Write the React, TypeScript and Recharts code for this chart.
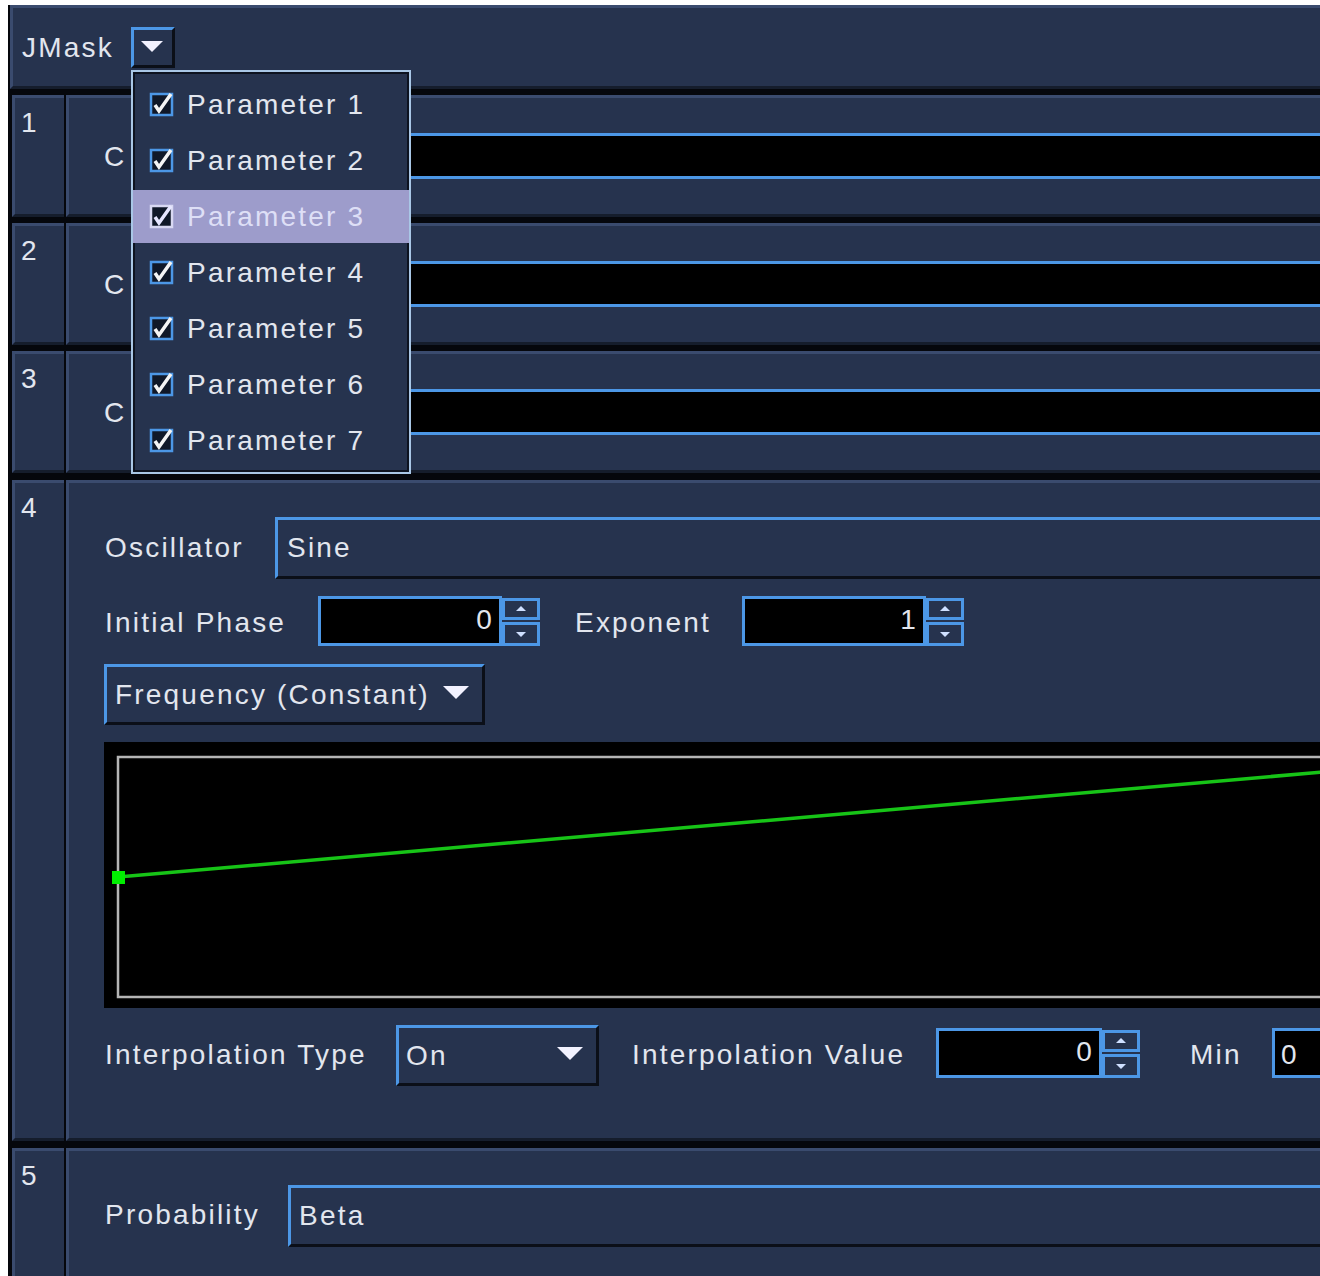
import React from "react";
import { LineChart, Line, XAxis, YAxis, ReferenceArea } from "recharts";

// frequency envelope: normalised time -> value
const envTime = [0, 1];
const envValue = [0.5, 0.94];

const menuItems = [
  "Parameter 1",
  "Parameter 2",
  "Parameter 3",
  "Parameter 4",
  "Parameter 5",
  "Parameter 6",
  "Parameter 7",
];
const highlighted = 2;

const rowNumbers = ["1", "2", "3", "4", "5"];

const NAVY = "#26334e";
const BLUE = "#4c97e6";
const TXT = "#e2e6ee";
const FONT = '"Liberation Sans", Arial, sans-serif';

const envData = envTime.map((t, i) => ({ t, v: envValue[i] }));

const text = (x: number, y: number, s: string, extra: React.CSSProperties = {}) => (
  <div
    style={{
      position: "absolute",
      left: x,
      top: y,
      fontSize: 28,
      letterSpacing: 2.2,
      color: TXT,
      lineHeight: "32px",
      whiteSpace: "nowrap",
      ...extra,
    }}
  >
    {s}
  </div>
);

const Panel = ({ x, y, w, h }: { x: number; y: number; w: number; h: number }) => (
  <div
    style={{
      position: "absolute",
      left: x,
      top: y,
      width: w,
      height: h,
      background: NAVY,
      boxSizing: "border-box",
      borderTop: "3px solid #3a4b6e",
      borderLeft: "3px solid #3a4b6e",
      borderBottom: "3px solid #151d2c",
    }}
  />
);

const Field = ({ x, y, w, h, black }: { x: number; y: number; w: number; h: number; black?: boolean }) => (
  <div
    style={{
      position: "absolute",
      left: x,
      top: y,
      width: w,
      height: h,
      boxSizing: "border-box",
      background: black ? "#000" : NAVY,
      borderTop: `3px solid ${BLUE}`,
      borderLeft: `3px solid ${BLUE}`,
      borderRight: black ? `3px solid ${BLUE}` : "3px solid #0b0f18",
      borderBottom: black ? `3px solid ${BLUE}` : "3px solid #0b0f18",
    }}
  />
);

const Arrow = ({ x, y, w = 26 }: { x: number; y: number; w?: number }) => (
  <svg style={{ position: "absolute", left: x, top: y }} width={w} height={w / 2 + 2}>
    <polygon points={`0,0 ${w},0 ${w / 2},${w / 2}`} fill="#f2f2ff" />
  </svg>
);

const Spin = ({ x, y, w, value }: { x: number; y: number; w: number; value: string }) => (
  <>
    <Field x={x} y={y} w={w - 38} h={50} black />
    {text(x, y + 8, value, { width: w - 46, textAlign: "right" })}
    <div style={{ position: "absolute", left: x + w - 38, top: y + 2, width: 38, height: 22, boxSizing: "border-box", border: `3px solid ${BLUE}`, background: NAVY }} />
    <div style={{ position: "absolute", left: x + w - 38, top: y + 26, width: 38, height: 24, boxSizing: "border-box", border: `3px solid ${BLUE}`, background: NAVY }} />
    <svg style={{ position: "absolute", left: x + w - 24, top: y + 10 }} width={10} height={6}>
      <polygon points="0,5 10,5 5,0" fill="#cfe0ff" />
    </svg>
    <svg style={{ position: "absolute", left: x + w - 24, top: y + 36 }} width={10} height={6}>
      <polygon points="0,0 10,0 5,5" fill="#cfe0ff" />
    </svg>
  </>
);

const Check = ({ x, y, light }: { x: number; y: number; light?: boolean }) => (
  <svg style={{ position: "absolute", left: x, top: y }} width={26} height={26}>
    <rect x={2} y={3} width={21} height={21} fill="#101828" stroke={light ? "#d8d8f2" : BLUE} strokeWidth={2.5} />
    <path d="M6 14 L10 20 L22 3" fill="none" stroke={light ? "#e6e6ff" : "#f4f4f4"} strokeWidth={3.5} />
  </svg>
);

export default function App() {
  const rows = [
    { y: 95, h: 122 },
    { y: 223, h: 122 },
    { y: 351, h: 122 },
    { y: 480, h: 661 },
    { y: 1148, h: 140 },
  ];
  const rowFields = [133, 261, 389];
  return (
    <div style={{ position: "relative", width: 1320, height: 1276, overflow: "hidden", background: "#fff", fontFamily: FONT }}>
      <style>{`body{margin:0}`}</style>
      <div style={{ position: "absolute", left: 8, top: 5, width: 1320, height: 1290, background: "#05070c" }} />
      <Panel x={10} y={5} w={1320} h={84} />
      {text(22, 32, "JMask")}
      <div style={{ position: "absolute", left: 131, top: 27, width: 44, height: 41, boxSizing: "border-box", borderTop: `3px solid ${BLUE}`, borderLeft: `3px solid ${BLUE}`, borderRight: "3px solid #0b0f18", borderBottom: "3px solid #0b0f18", background: NAVY }} />
      <Arrow x={141} y={41} w={22} />

      {rows.map((r, i) => (
        <React.Fragment key={i}>
          <Panel x={12} y={r.y} w={52} h={r.h} />
          <Panel x={66} y={r.y} w={1300} h={r.h} />
          {text(21, r.y + 12, rowNumbers[i])}
        </React.Fragment>
      ))}

      {rowFields.map((fy, i) => (
        <React.Fragment key={i}>
          {text(104, fy + 8, "C")}
          <div style={{ position: "absolute", left: 300, top: fy, width: 1100, height: 46, boxSizing: "border-box", background: "#000", borderTop: `3px solid ${BLUE}`, borderBottom: `3px solid ${BLUE}` }} />
        </React.Fragment>
      ))}

      {/* row 4 */}
      {text(105, 532, "Oscillator")}
      <Field x={275} y={517} w={1100} h={62} />
      {text(287, 532, "Sine")}
      {text(105, 607, "Initial Phase")}
      <Spin x={318} y={596} w={222} value="0" />
      {text(575, 607, "Exponent")}
      <Spin x={742} y={596} w={222} value="1" />
      <Field x={104} y={664} w={381} h={61} />
      {text(115, 679, "Frequency (Constant)")}
      <Arrow x={443} y={686} />

      <div style={{ position: "absolute", left: 104, top: 742, width: 1240, height: 266, background: "#000" }}>
        <LineChart width={1240} height={266} data={envData} margin={{ top: 15, right: 14, bottom: 11, left: 14 }}>
          <XAxis dataKey="t" type="number" domain={[0, 1]} hide />
          <YAxis type="number" domain={[0, 1]} hide />
          <ReferenceArea x1={0} x2={1} y1={0} y2={1} fill="none" fillOpacity={0} stroke="#b4b4b4" strokeWidth={2.5} ifOverflow="visible" />
          <Line
            dataKey="v"
            type="linear"
            stroke="#17c417"
            strokeWidth={3.5}
            isAnimationActive={false}
            activeDot={false}
            dot={(p: any) =>
              p.index === 0 ? (
                <rect key="d0" x={p.cx - 6} y={p.cy - 6} width={13} height={13} fill="#00ee00" />
              ) : (
                <g key={`d${p.index}`} />
              )
            }
          />
        </LineChart>
      </div>

      {text(105, 1039, "Interpolation Type")}
      <Field x={396} y={1025} w={203} h={61} />
      {text(406, 1040, "On")}
      <Arrow x={557} y={1047} />
      {text(632, 1039, "Interpolation Value")}
      <Spin x={936} y={1028} w={204} value="0" />
      {text(1190, 1039, "Min")}
      <Field x={1272} y={1028} w={120} h={50} black />
      {text(1281, 1039, "0")}

      {/* row 5 */}
      {text(105, 1199, "Probability")}
      <Field x={288} y={1185} w={1100} h={62} />
      {text(299, 1200, "Beta")}

      {/* dropdown menu */}
      <div style={{ position: "absolute", left: 131, top: 70, width: 280, height: 404, boxSizing: "border-box", background: NAVY, border: "2px solid #a9c7e6", boxShadow: "inset 0 0 0 2px #0d1320" }} />
      {menuItems.map((m, i) => {
        const y = 78 + i * 56;
        const hl = i === highlighted;
        return (
          <React.Fragment key={m}>
            {hl && <div style={{ position: "absolute", left: 133, top: 190, width: 276, height: 53, background: "#9d9ccb" }} />}
            <Check x={149} y={y + 13} light={hl} />
            {text(187, y + 11, m, hl ? { color: "#dedff6" } : {})}
          </React.Fragment>
        );
      })}
    </div>
  );
}
